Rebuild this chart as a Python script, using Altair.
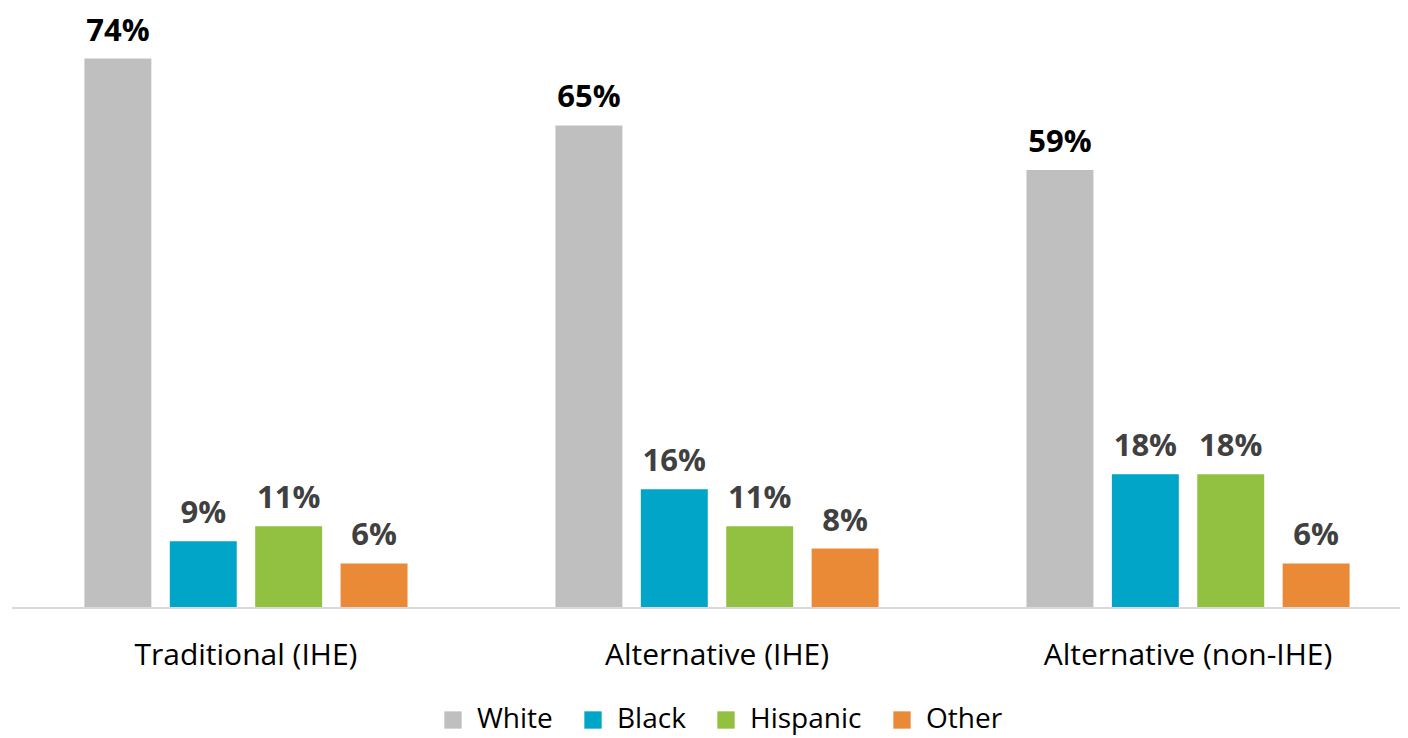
import altair as alt
import pandas as pd

categories = ["Traditional (IHE)", "Alternative (IHE)", "Alternative (non-IHE)"]
races = ["White", "Black", "Hispanic", "Other"]
white = [74, 65, 59]
black = [9, 16, 18]
hispanic = [11, 11, 18]
other = [6, 8, 6]
colors = ["#BFBFBF", "#00A5C8", "#92C040", "#EA8A37"]

rows = []
for i, c in enumerate(categories):
    for r, vals in zip(races, [white, black, hispanic, other]):
        rows.append({"program": c, "race": r, "value": vals[i], "label": f"{vals[i]}%"})
df = pd.DataFrame(rows)

W = 1366
H = 594
FONT = "Open Sans"

x = alt.X("program:N", sort=categories, title=None,
          scale=alt.Scale(paddingInner=0.314, paddingOuter=0.107),
          axis=alt.Axis(labelAngle=0, labelFontSize=30, labelColor="#000000", labelLimit=600,
                        labelPadding=32, ticks=False, domain=False, labelFont=FONT))
xo = alt.XOffset("race:N", sort=races, scale=alt.Scale(paddingInner=0.216))
y = alt.Y("value:Q", scale=alt.Scale(domain=[0, 80]), axis=None)

base = alt.Chart(df)

bars = base.mark_bar().encode(
    x=x, xOffset=xo, y=y,
    color=alt.Color("race:N", sort=races,
                    scale=alt.Scale(domain=races, range=colors),
                    legend=alt.Legend(title=None, orient="none", direction="horizontal",
                                      legendX=405, legendY=692,
                                      symbolType="square", symbolSize=300, symbolStrokeWidth=0,
                                      labelFontSize=28, labelColor="#000000", labelFont=FONT,
                                      columnPadding=26, labelOffset=10, labelLimit=300)),
)

labels = base.mark_text(baseline="alphabetic", dy=-18, fontSize=31, fontWeight="bold", font=FONT).encode(
    x=x, xOffset=xo, y=y, text="label:N",
    color=alt.condition(alt.datum.race == "White", alt.value("#000000"), alt.value("#404040")),
)

baseline = alt.Chart(pd.DataFrame({"v": [0]})).mark_rule(color="#D9D9D9", strokeWidth=2).encode(
    x=alt.value(-22), x2=alt.value(W + 8), y=alt.Y("v:Q", scale=alt.Scale(domain=[0, 80]), axis=None)
)

chart = alt.layer(bars, labels, baseline).properties(
    width=W, height=H,
    autosize=alt.AutoSizeParams(type="none"),
    padding={"left": 26, "top": 6, "right": 0, "bottom": 128},
).configure(font=FONT).configure_view(stroke=None)

chart.save("out.html", embed_options={"renderer": "svg", "actions": False})
